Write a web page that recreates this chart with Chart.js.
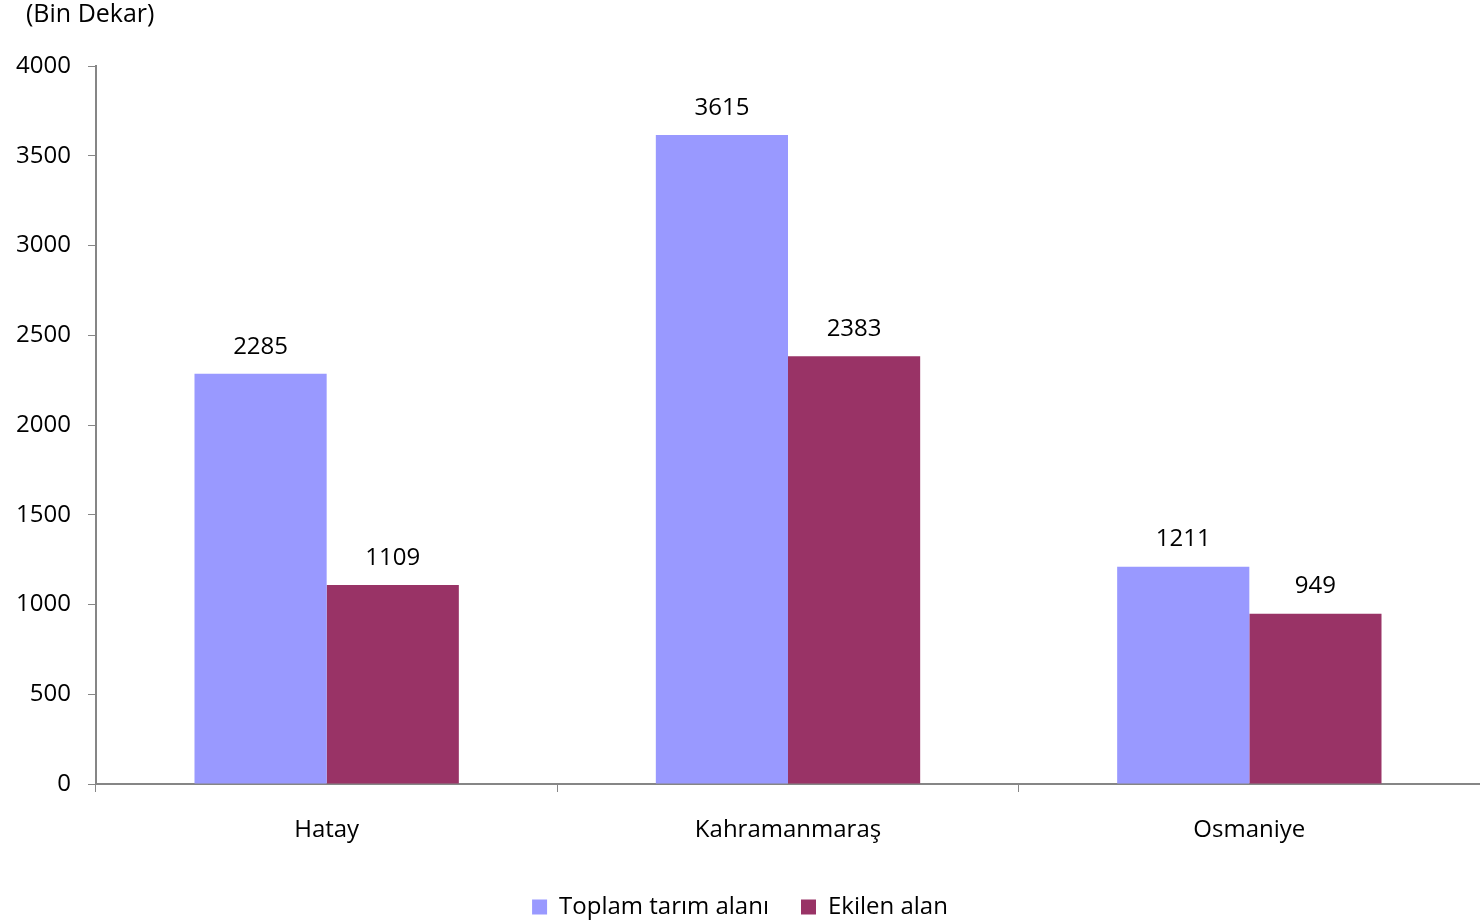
<!DOCTYPE html>
<html>
<head>
<meta charset="utf-8">
<script src="https://cdn.jsdelivr.net/npm/chart.js@4/dist/chart.umd.min.js"></script>
<style>
  html, body { margin: 0; padding: 0; background: #fff; }
  #wrap { width: 1480px; height: 923px; position: relative; }
</style>
</head>
<body>
<div id="wrap"><canvas id="alan"></canvas></div>
<script>
// data
var iller = ["Hatay", "Kahramanmaraş", "Osmaniye"];
var toplamTarim = [2285, 3615, 1211];
var ekilenAlan = [1109, 2383, 949];
var yTicks = [0, 500, 1000, 1500, 2000, 2500, 3000, 3500, 4000];

var FONT = "'Open Sans', sans-serif";
var AXIS = "#868686";

// value labels above each bar
var degerEtiketi = {
  id: "degerEtiketi",
  afterDatasetsDraw: function (chart) {
    var ctx = chart.ctx;
    ctx.save();
    ctx.font = "24px " + FONT;
    ctx.fillStyle = "#000";
    ctx.textAlign = "center";
    ctx.textBaseline = "bottom";
    chart.data.datasets.forEach(function (ds, i) {
      chart.getDatasetMeta(i).data.forEach(function (bar, j) {
        ctx.fillText(ds.data[j], bar.x, bar.y - 15);
      });
    });
    ctx.restore();
  }
};

// unit label in the top-left corner
var birim = {
  id: "birim",
  afterDraw: function (chart) {
    var ctx = chart.ctx;
    ctx.save();
    ctx.font = "25px " + FONT;
    ctx.fillStyle = "#000";
    ctx.textAlign = "left";
    ctx.textBaseline = "middle";
    ctx.fillText("(Bin Dekar)", 26, 15);
    ctx.restore();
  }
};

var ctx = document.getElementById("alan").getContext("2d");
var chart = new Chart(ctx, {
  type: "bar",
  data: {
    labels: iller,
    datasets: [
      {
        label: "Toplam tarım alanı",
        backgroundColor: "#9999FF",
        borderWidth: 0,
        data: toplamTarim
      },
      {
        label: "Ekilen alan",
        backgroundColor: "#993366",
        borderWidth: 0,
        data: ekilenAlan
      }
    ]
  },
  plugins: [degerEtiketi, birim],
  options: {
    responsive: true,
    maintainAspectRatio: false,
    animation: false,
    layout: { padding: { top: 66, right: 0, left: 0, bottom: -6 } },
    datasets: {
      bar: { categoryPercentage: 0.573, barPercentage: 1.0 }
    },
    plugins: {
      legend: {
        position: "bottom",
        labels: {
          font: { family: FONT, size: 24 },
          color: "#000",
          boxWidth: 15,
          boxHeight: 15,
          padding: 32
        }
      },
      tooltip: { enabled: false }
    },
    scales: {
      x: {
        grid: {
          display: true,
          drawOnChartArea: false,
          drawTicks: true,
          tickLength: 8,
          color: AXIS,
          offset: true
        },
        border: { color: AXIS, width: 2 },
        ticks: {
          font: { family: FONT, size: 24 },
          color: "#000",
          padding: 24
        },
        afterFit: function (s) { s.height = 79; }
      },
      y: {
        min: 0,
        max: 4000,
        afterBuildTicks: function (s) {
          s.ticks = yTicks.map(function (v) { return { value: v }; });
        },
        grid: {
          display: true,
          drawOnChartArea: false,
          drawTicks: true,
          tickLength: 8,
          color: AXIS
        },
        border: { color: AXIS, width: 2 },
        ticks: {
          font: { family: FONT, size: 24 },
          color: "#000",
          padding: 17,
          callback: function (v) { return String(v); }
        },
        afterFit: function (s) { s.width = 96; }
      }
    }
  }
});
</script>
</body>
</html>
